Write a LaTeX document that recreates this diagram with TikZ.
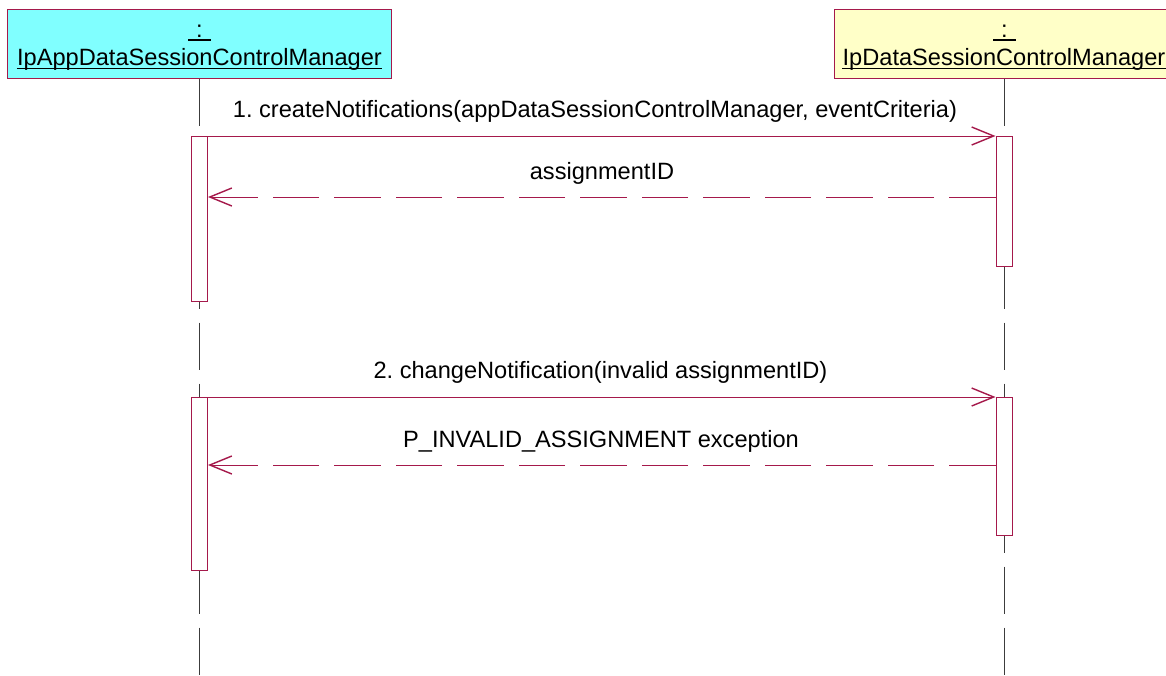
\documentclass[tikz,border=0pt]{standalone}
\usepackage{fontspec}
\setmainfont{Liberation Sans}
\usetikzlibrary{arrows.meta,calc}
\definecolor{crim}{RGB}{165,25,75}
\definecolor{lifec}{RGB}{60,60,60}
\definecolor{cyanbox}{RGB}{128,255,255}
\definecolor{yelbox}{RGB}{255,255,200}
\begin{document}
\frenchspacing
\begin{tikzpicture}[x=1pt,y=-1pt,
  every node/.style={font=\fontsize{23.6}{28}\selectfont, inner sep=0pt, text=black},
  hdr/.style={draw=crim, line width=1pt, rectangle},
  act/.style={draw=crim, line width=1pt, fill=white, rectangle, minimum width=16pt, anchor=north},
  life/.style={draw=lifec, line width=1pt, dash pattern=on 47pt off 14pt},
  msg/.style={draw=crim, line width=1pt, -{Straight Barb[length=22pt,width=18pt,line width=1.4pt]}},
  ret/.style={msg, dash pattern=on 46.5pt off 15pt},
  lbl/.style={anchor=base},
  uline/.style={draw=black, line width=1.2pt}]
\clip (0,0) rectangle (1166,675);
\fill[white] (0,0) rectangle (1166,675);

% header boxes
\node[hdr, fill=cyanbox, minimum width=384pt, minimum height=69pt] (lbox) at (199.5,43.5) {};
\node[hdr, fill=yelbox, minimum width=340pt, minimum height=69pt] (rbox) at (1004,43.5) {};
\node[lbl] (lcolon) at (199.5,37) {:};
\node[lbl] (lname) at (199.5,65) {IpAppDataSessionControlManager};
\node[lbl] (rcolon) at (1004.5,37) {:};
\node[lbl] (rname) at (1004,65) {IpDataSessionControlManager};
\draw[uline] ($(lcolon.base)+(-11.5,3)$) -- ($(lcolon.base)+(11.5,3)$);
\draw[uline] ($(lname.base west)+(0,3.5)$) -- ($(lname.base east)+(0,3.5)$);
\draw[uline] ($(rcolon.base)+(-11.5,3)$) -- ($(rcolon.base)+(11.5,3)$);
\draw[uline] ($(rname.base west)+(0,3.5)$) -- ($(rname.base east)+(0,3.5)$);

% lifelines
\coordinate (lend) at (199.5,680);
\coordinate (rend) at (1004,680);
\draw[life] (lbox.south) -- (lend);
\draw[life] (rbox.south) -- (rend);

% activations
\node[act, minimum height=165pt] (la1) at (199.5,136) {};
\node[act, minimum height=130pt] (ra1) at (1004,136) {};
\node[act, minimum height=173pt] (la2) at (199.5,397) {};
\node[act, minimum height=138pt] (ra2) at (1004,397) {};

% messages
\draw[msg] (la1.north east) -- (ra1.north west);
\node[lbl] (m1) at (595,117) {1. createNotifications(appDataSessionControlManager, eventCriteria)};
\draw[ret] ($(ra1.north west)+(0,61)$) -- ($(la1.north east)+(0,61)$);
\node[lbl] (r1) at (602,179) {assignmentID};

\draw[msg] (la2.north east) -- (ra2.north west);
\node[lbl] (m2) at (600.5,378) {2. changeNotification(invalid assignmentID)};
\draw[ret] ($(ra2.north west)+(0,68)$) -- ($(la2.north east)+(0,68)$);
\node[lbl] (r2) at (601,447) {P\_INVALID\_ASSIGNMENT exception};
\end{tikzpicture}
\end{document}
